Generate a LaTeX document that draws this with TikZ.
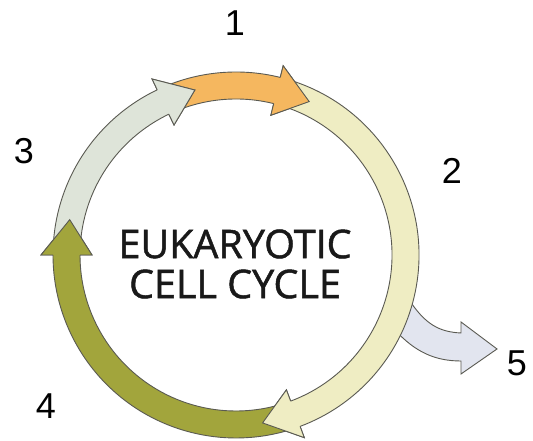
\documentclass[tikz,border=0pt]{standalone}
\usepackage{fontspec}
\setmainfont{Liberation Sans}
\newfontfamily\centerfont[FakeBold=1.2]{Open Sans}
\definecolor{orangeA}{HTML}{F5B75F}
\definecolor{yellowA}{HTML}{EFEDC3}
\definecolor{greenA}{HTML}{A2A53C}
\definecolor{greyA}{HTML}{DEE4D9}
\definecolor{blueA}{HTML}{E2E5EF}
\definecolor{edgeA}{HTML}{5A5A52}
\tikzset{
  ringpart/.style={draw=edgeA, line width=0.9pt, line join=miter},
  numlabel/.style={font=\fontsize{36}{36}\selectfont, inner sep=0pt},
  titletext/.style={font=\centerfont\fontsize{39.5}{39.5}\selectfont, text=black!90, inner sep=0pt}
}
% #1 colour, #2 tail angle, #3 head base angle, #4 tip angle
\newcommand\ringarrowbody[4]{%
  \path[ringpart, fill=#1] (#2:183) arc[start angle=#2, end angle=#3, radius=183]
    -- (#3:195) -- (#4:170) -- (#3:144) -- (#3:156)
    arc[start angle=#3, end angle=#2, radius=156] -- cycle;}
\newcommand\ringarrowhead[4]{%
  \path[ringpart, fill=#1] (#3:183) -- (#3:195) -- (#4:170) -- (#3:144) -- (#3:156);}
\begin{document}
\begin{tikzpicture}[x=1pt, y=1pt]
\fill[white] (0,0) rectangle (533,441);
\useasboundingbox (0,0) rectangle (533,441);
% arrow 5 (exit)
\path[ringpart, fill=blueA] (408,143) .. controls (425,116) and (440,109) .. (461,108)
  -- (461,119) -- (497,92) -- (461,67) -- (461,80)
  .. controls (435,80) and (415,89) .. (395,111) -- cycle;
\begin{scope}[shift={(236,186)}]
  \coordinate (ctr) at (0,0);
  \ringarrowbody{orangeA}{112.5}{76}{64.5}
  \ringarrowbody{yellowA}{73}{-69.5}{-81}
  \ringarrowbody{greenA}{-72.5}{-180}{-192}
  \ringarrowbody{greyA}{177}{115.5}{104}
  \ringarrowhead{orangeA}{112.5}{76}{64.5}
  \ringarrowhead{yellowA}{73}{-69.5}{-81}
  \ringarrowhead{greenA}{-72.5}{-180}{-192}
  \ringarrowhead{greyA}{177}{115.5}{104}
\end{scope}
\node[titletext] (t1) at (235,197) {EUKARYOTIC};
\node[titletext] (t2) at (235,157) {CELL CYCLE};
\node[numlabel] (n1) at (235,418) {1};
\node[numlabel] (n2) at (452,270) {2};
\node[numlabel] (n3) at (24,290) {3};
\node[numlabel] (n4) at (46,35) {4};
\node[numlabel] (n5) at (517,78) {5};
\end{tikzpicture}
\end{document}
